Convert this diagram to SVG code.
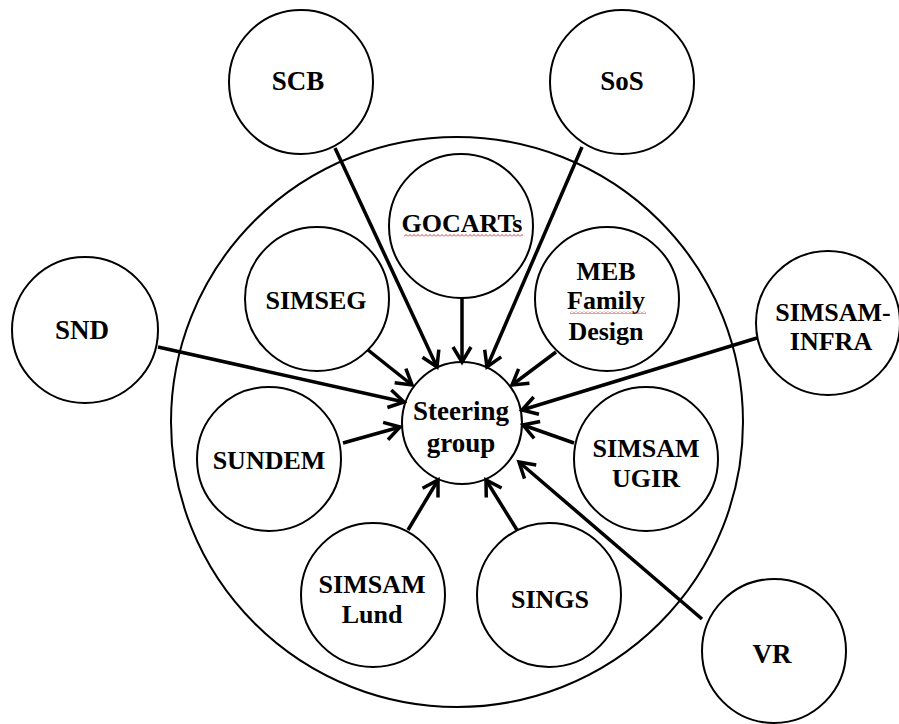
<svg xmlns="http://www.w3.org/2000/svg" width="899" height="724" viewBox="0 0 899 724">
<style>
.n{fill:#fff;stroke:#000;stroke-width:2}
.big{fill:none;stroke:#000;stroke-width:2}
.t{font-family:"Liberation Serif","Times New Roman",serif;font-weight:bold;font-size:26px;fill:#000;text-anchor:middle}
.L{font-size:27px}
.c{stroke:#000;stroke-width:3.5;fill:none;marker-end:url(#ah)}
</style>
<defs>
<marker id="ah" markerUnits="userSpaceOnUse" markerWidth="24" markerHeight="24" viewBox="-18 -12 24 24" refX="0" refY="0" orient="auto">
<path d="M-15,-9 L0,0 L-15,9" fill="none" stroke="#000" stroke-width="3.5" stroke-linejoin="miter"/>
</marker>
<pattern id="wavy" patternUnits="userSpaceOnUse" width="4" height="3">
<path d="M0,2.5 L2,0.5 L4,2.5" fill="none" stroke="#e02020" stroke-width="0.9"/>
</pattern>
</defs>
<rect width="899" height="724" fill="#fff"/>
<g id="outer"><ellipse class="big" cx="457" cy="422" rx="286" ry="285"/></g>

<g id="SCB"><circle class="n" cx="301" cy="82" r="72"/><text class="t L" x="298" y="90">SCB</text></g>
<g id="SoS"><circle class="n" cx="622" cy="82" r="72"/><text class="t L" x="622" y="90">SoS</text></g>
<g id="SND"><circle class="n" cx="85" cy="330" r="73"/><text class="t L" x="82" y="339">SND</text></g>
<g id="SIMSAM-INFRA"><circle class="n" cx="828" cy="323" r="72"/><text class="t" x="833" y="321">SIMSAM-</text><text class="t" x="831" y="350">INFRA</text></g>
<g id="VR"><circle class="n" cx="774" cy="651" r="72"/><text class="t L" x="772" y="663">VR</text></g>
<g id="GOCARTs"><circle class="n" cx="461" cy="226" r="72"/><text class="t" x="462" y="232">GOCARTs</text><rect x="404" y="234" width="119" height="3" fill="url(#wavy)"/></g>
<g id="SIMSEG"><circle class="n" cx="317" cy="299" r="72"/><text class="t" x="316" y="309">SIMSEG</text></g>
<g id="MEB"><circle class="n" cx="607" cy="299" r="72"/><text class="t" x="606" y="280">MEB</text><text class="t" x="606" y="309">Family</text><rect x="570" y="311" width="76" height="3" fill="url(#wavy)"/><text class="t" x="606" y="340">Design</text></g>
<g id="SUNDEM"><circle class="n" cx="269" cy="459" r="72"/><text class="t" x="269" y="469">SUNDEM</text></g>
<g id="SIMSAM-UGIR"><circle class="n" cx="646" cy="459" r="72"/><text class="t" x="646" y="457">SIMSAM</text><text class="t" x="646" y="487">UGIR</text></g>
<g id="SIMSAM-Lund"><circle class="n" cx="373" cy="595" r="72"/><text class="t" x="372" y="593">SIMSAM</text><text class="t" x="372" y="623">Lund</text></g>
<g id="SINGS"><circle class="n" cx="549" cy="595" r="72"/><text class="t" x="550" y="608">SINGS</text></g>
<g id="Steering"><ellipse class="n" cx="462" cy="423" rx="60" ry="61"/><text class="t L" x="461" y="420">Steering</text><text class="t L" x="461" y="452">group</text></g>

<g id="connectors">
<line class="c" x1="335" y1="148" x2="437" y2="367"/>
<line class="c" x1="462" y1="298" x2="462" y2="362"/>
<line class="c" x1="582" y1="147" x2="487" y2="367"/>
<line class="c" x1="368" y1="350" x2="412" y2="385"/>
<line class="c" x1="556" y1="352" x2="512" y2="385"/>
<line class="c" x1="158" y1="347" x2="404" y2="402"/>
<line class="c" x1="757" y1="338" x2="522" y2="410"/>
<line class="c" x1="343" y1="443" x2="400" y2="427"/>
<line class="c" x1="574" y1="443" x2="523" y2="425"/>
<line class="c" x1="408" y1="530" x2="438" y2="480"/>
<line class="c" x1="517" y1="530" x2="486" y2="480"/>
<line class="c" x1="702" y1="619" x2="519" y2="462"/>
</g>
</svg>
